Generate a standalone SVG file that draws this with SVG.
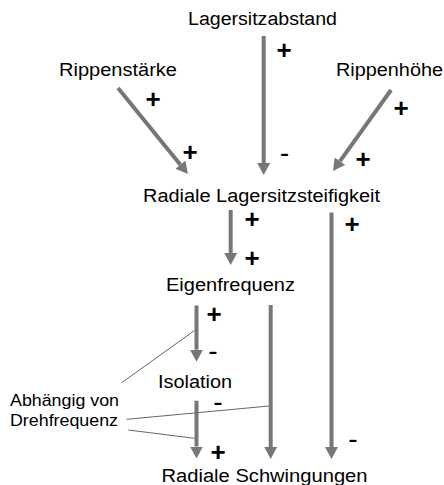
<svg xmlns="http://www.w3.org/2000/svg" width="444" height="485" viewBox="0 0 444 485">
<style>
.lbl{font-family:"Liberation Sans",Arial,sans-serif;font-size:18px;fill:#000;text-anchor:middle}
.sm{font-family:"Liberation Sans",Arial,sans-serif;font-size:16px;fill:#000}
.sg{font-family:"Liberation Sans",Arial,sans-serif;font-size:26px;font-weight:bold;fill:#000;text-anchor:middle}
.mn{font-family:"Liberation Sans",Arial,sans-serif;font-size:19px;font-weight:bold;fill:#000;text-anchor:middle}
.ar{stroke:#777;stroke-width:4;fill:none;marker-end:url(#ah)}
.th{stroke:#666;stroke-width:1;fill:none}
</style>
<defs>
<marker id="ah" viewBox="0 0 12 13" markerUnits="userSpaceOnUse" markerWidth="12" markerHeight="13" refX="0" refY="6.5" orient="auto">
<polygon points="0,0 12,6.5 0,13" fill="#777"/>
</marker>
</defs>
<g id="n-lagersitzabstand"><text class="lbl" x="262.5" y="25" textLength="149" lengthAdjust="spacingAndGlyphs">Lagersitzabstand</text></g>
<g id="n-rippenstaerke"><text class="lbl" x="118" y="76" textLength="118" lengthAdjust="spacingAndGlyphs">Rippenstärke</text></g>
<g id="n-rippenhoehe"><text class="lbl" x="389.5" y="76" textLength="107" lengthAdjust="spacingAndGlyphs">Rippenhöhe</text></g>
<g id="n-steifigkeit"><text class="lbl" x="261.5" y="201.5" textLength="237" lengthAdjust="spacingAndGlyphs">Radiale Lagersitzsteifigkeit</text></g>
<g id="n-eigenfrequenz"><text class="lbl" x="230.5" y="290.5" textLength="129" lengthAdjust="spacingAndGlyphs">Eigenfrequenz</text></g>
<g id="n-isolation"><text class="lbl" x="195" y="387.5" textLength="74" lengthAdjust="spacingAndGlyphs">Isolation</text></g>
<g id="n-schwingungen"><text class="lbl" x="264.5" y="482" textLength="206" lengthAdjust="spacingAndGlyphs">Radiale Schwingungen</text></g>
<g id="n-abhaengig"><text class="sm" x="10" y="406" textLength="109" lengthAdjust="spacingAndGlyphs">Abhängig von</text><text class="sm" x="10" y="425.5" textLength="108" lengthAdjust="spacingAndGlyphs">Drehfrequenz</text></g>
<g id="connectors">
<line class="ar" x1="263.7" y1="36" x2="263.7" y2="163"/>
<line class="ar" x1="118" y1="88" x2="180.4" y2="164.7"/>
<line class="ar" x1="391" y1="90" x2="340" y2="161.2"/>
<line class="ar" x1="230.7" y1="210" x2="230.7" y2="253"/>
<line class="ar" x1="331.5" y1="212.5" x2="331.5" y2="447"/>
<line class="ar" x1="196.5" y1="305.5" x2="196.5" y2="349.7"/>
<line class="ar" x1="270.7" y1="305" x2="270.7" y2="447"/>
<line class="ar" x1="196.5" y1="400.7" x2="196.5" y2="446.5"/>
<line class="th" x1="121.7" y1="382.7" x2="194.5" y2="330.5"/>
<line class="th" x1="126.7" y1="419.3" x2="269" y2="406"/>
<line class="th" x1="128.3" y1="430" x2="194.5" y2="438.3"/>
</g>
<g id="signs">
<text class="sg" x="284" y="59.3">+</text>
<text class="sg" x="153" y="108.3">+</text>
<text class="sg" x="190" y="161.3">+</text>
<text class="mn" x="284.5" y="160" textLength="9" lengthAdjust="spacingAndGlyphs">-</text>
<text class="sg" x="401" y="117.3">+</text>
<text class="sg" x="363" y="168.3">+</text>
<text class="sg" x="252" y="228.3">+</text>
<text class="sg" x="252" y="267.3">+</text>
<text class="sg" x="352" y="233.3">+</text>
<text class="sg" x="214" y="323.3">+</text>
<text class="mn" x="213" y="358.3" textLength="9" lengthAdjust="spacingAndGlyphs">-</text>
<text class="mn" x="218" y="408.7" textLength="9" lengthAdjust="spacingAndGlyphs">-</text>
<text class="mn" x="353" y="446" textLength="9" lengthAdjust="spacingAndGlyphs">-</text>
<text class="sg" x="218" y="461.3">+</text>
</g>
</svg>
